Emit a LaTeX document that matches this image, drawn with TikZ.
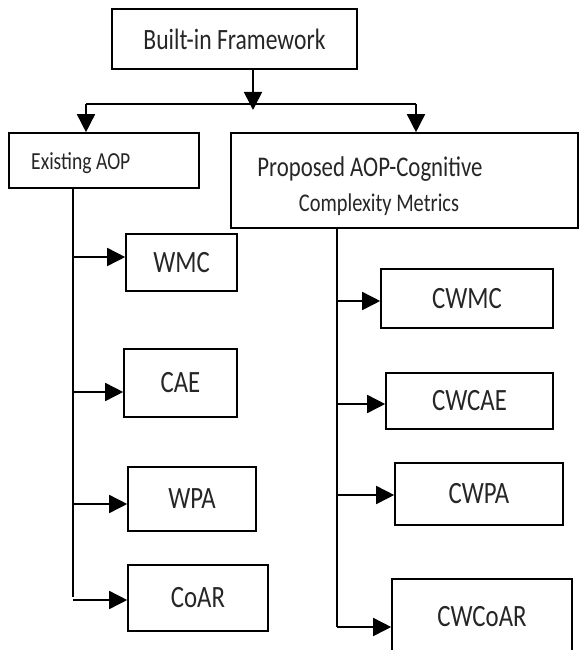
\documentclass[tikz,border=0pt]{standalone}
\usepackage{fontspec}
\setmainfont[FakeStretch=0.8]{Carlito}
\usetikzlibrary{arrows.meta}
\begin{document}
\begin{tikzpicture}[x=1pt,y=-1pt,
  box/.style={draw=black, line width=1.6pt, inner sep=0pt, font=\fontsize{31}{36}\selectfont, text=black!85},
  arr/.style={line width=1.6pt, -{Triangle[length=18pt,width=18pt]}},
  ln/.style={line width=1.6pt}]
\useasboundingbox (0,0) rectangle (579,650);
% top
\node[box, minimum width=245pt, minimum height=60pt, font=\fontsize{29.5}{34}\selectfont] (top) at (234.5,39) {Built-in Framework};
% second level
\node[box, minimum width=190pt, minimum height=55pt, font=\fontsize{24.5}{29}\selectfont] (exist) at (104,160.5) {};
\node[anchor=west, inner sep=0pt, text=black!85, font=\fontsize{24.5}{29}\selectfont] (existtext) at (31,163) {Existing\hspace{4.5pt}AOP};
\node[box, minimum width=347pt, minimum height=95pt] (prop) at (404.5,180.5) {};
\node[align=center, inner sep=0pt, text=black!85] (proptext) at (370,186) {{\fontsize{28.5}{34}\selectfont Proposed AOP-Cognitive}\\[11pt]{\fontsize{25.5}{30}\selectfont\hspace*{18pt}Complexity Metrics}};
% left column
\node[box, minimum width=111pt, minimum height=57pt] (wmc) at (181.5,262.5) {WMC};
\node[box, minimum width=113pt, minimum height=68pt] (cae) at (180.5,383) {CAE};
\node[box, minimum width=128pt, minimum height=64pt] (wpa) at (192,499) {WPA};
\node[box, minimum width=140pt, minimum height=66pt] (coar) at (198,598) {CoAR};
% right column
\node[box, minimum width=172pt, minimum height=59pt] (cwmc) at (467,298.5) {CWMC};
\node[box, minimum width=167pt, minimum height=56pt] (cwcae) at (469.5,401) {CWCAE};
\node[box, minimum width=168pt, minimum height=62pt] (cwpa) at (479,494) {CWPA};
\node[box, minimum width=180pt, minimum height=76pt] (cwcoar) at (482,617) {CWCoAR};
% top connectors
\coordinate (j) at (253,104);
\coordinate (jl) at (86,104);
\coordinate (jr) at (416,104);
\draw[arr] (top.south -| j) -- ([yshift=-6pt]j);
\draw[ln] (jl) -- (jr);
\draw[arr] (jl) -- (jl |- exist.north);
\draw[arr] (jr) -- (jr |- prop.north);
% left trunk
\coordinate (lt) at (73,597);
\draw[ln] (lt |- exist.south) -- (lt);
\path ([yshift=5.5pt]wmc.west) coordinate (wmcin);
\path ([yshift=-9pt]cae.west) coordinate (caein);
\path ([yshift=-5pt]wpa.west) coordinate (wpain);
\path ([yshift=-2pt]coar.west) coordinate (coarin);
\draw[arr] (wmcin -| lt) -- (wmcin);
\draw[arr] (caein -| lt) -- (caein);
\draw[arr] (wpain -| lt) -- (wpain);
\draw[arr] (coarin -| lt) -- (coarin);
% right trunk
\coordinate (rt) at (337,627);
\draw[ln] (rt |- prop.south) -- (rt);
\path ([yshift=-2.5pt]cwmc.west) coordinate (cwmcin);
\path ([yshift=-3pt]cwcae.west) coordinate (cwcaein);
\path ([yshift=-1pt]cwpa.west) coordinate (cwpain);
\path (cwcoar.west |- rt) coordinate (cwcoarin);
\draw[arr] (cwmcin -| rt) -- (cwmcin);
\draw[arr] (cwcaein -| rt) -- (cwcaein);
\draw[arr] (cwpain -| rt) -- (cwpain);
\draw[arr] (cwcoarin -| rt) -- (cwcoarin);
\end{tikzpicture}
\end{document}
